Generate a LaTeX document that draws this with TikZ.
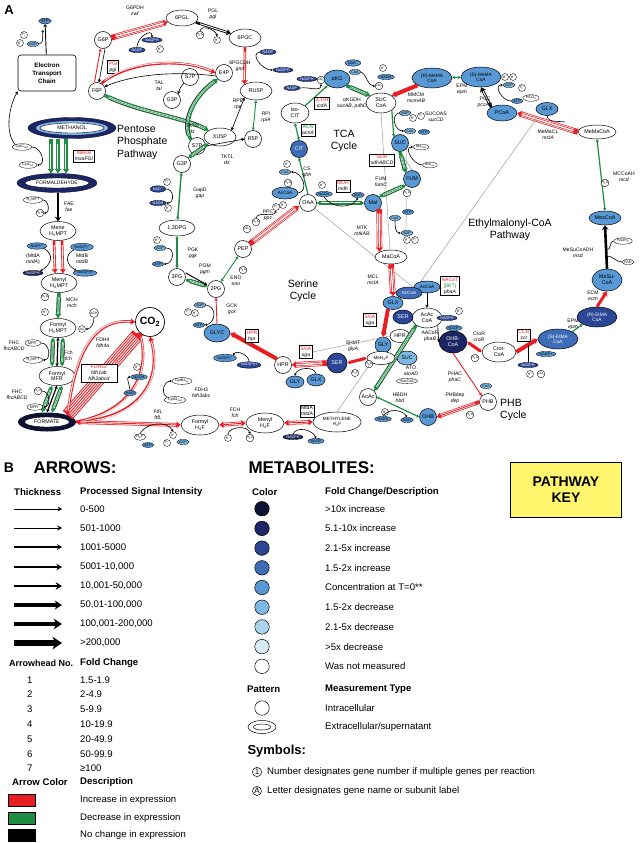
\documentclass[tikz,border=0pt]{standalone}
\usepackage{fontspec}
\setmainfont{Liberation Sans}
\usetikzlibrary{arrows.meta,shapes.geometric,calc}
\definecolor{myred}{RGB}{232,30,37}
\definecolor{mygreen}{RGB}{30,140,65}
\definecolor{c1}{RGB}{13,18,50}
\definecolor{c2}{RGB}{28,38,100}
\definecolor{c3}{RGB}{44,70,150}
\definecolor{c4}{RGB}{62,108,182}
\definecolor{c5}{RGB}{88,152,212}
\definecolor{c6}{RGB}{128,184,228}
\definecolor{c7}{RGB}{172,211,238}
\definecolor{c8}{RGB}{216,235,248}
\definecolor{keyyel}{RGB}{255,246,110}
\newcommand{\myfs}[2]{\fontsize{#1}{#2}\selectfont}
\newcommand{\lsb}[1]{\textsubscript{#1}}
\newcommand{\lsp}[1]{\textsuperscript{#1}}
\tikzset{
 met/.style={ellipse, draw, line width=0.5pt, fill=white, inner sep=0pt, font=\myfs{5.4}{5.9}, align=center},
 metc/.style={circle, draw, line width=0.5pt, fill=white, inner sep=0pt, minimum size=17pt, font=\myfs{5.4}{5.9}},
 cof/.style={circle, draw, line width=0.35pt, fill=white, inner sep=0pt, minimum size=7pt, font=\myfs{3.4}{3.6}},
 cofe/.style={ellipse, draw, line width=0.35pt, fill=white, inner sep=0.5pt, font=\myfs{3.8}{4}},
 k1/.style={fill=c1,text=white}, k2/.style={fill=c2,text=white}, k3/.style={fill=c3,text=white},
 k4/.style={fill=c4,text=white}, k5/.style={fill=c5}, k6/.style={fill=c6}, k7/.style={fill=c7}, k8/.style={fill=c8},
 lab/.style={font=\myfs{5.1}{5.9}, align=center, inner sep=0pt},
 gbox/.style={draw, line width=0.5pt, fill=white, font=\myfs{5.1}{5.9}, align=center, inner sep=1.2pt},
 big/.style={font=\myfs{10.5}{12.5}, align=left, inner sep=0pt},
 tipS/.style={-{Stealth[length=4.5pt,width=6.5pt]}},
 tpp/.style={{Stealth[length=3pt,width=3.5pt]}-{Stealth[length=3pt,width=3.5pt]}},
 tp/.style={-{Stealth[length=3pt,width=3.5pt]}},
 tSS/.style={{Stealth[length=4.5pt,width=6.5pt]}-{Stealth[length=4.5pt,width=6.5pt]}},
 rT/.style={draw=myred, line width=0.9pt},
 gT/.style={draw=mygreen, line width=0.9pt},
 bT/.style={draw=black, line width=0.6pt},
 hook/.style={draw=black, line width=0.6pt, -{Stealth[length=2.2pt,width=2.6pt]}},
 grayl/.style={draw=black!45, line width=0.4pt},
 rBig/.style={draw=myred, line width=3pt},
 kBig/.style={draw=black, line width=2.6pt},
 rD/.style={draw=myred, line width=2.6pt, postaction={draw=white, line width=0.9pt, -, shorten >=4.5pt, shorten <=4.5pt}},
 kD/.style={draw=black, line width=2.6pt, postaction={draw=white, line width=0.9pt, -, shorten >=4.5pt, shorten <=4.5pt}},
 rS/.style={draw=myred, line width=3.8pt, postaction={draw=white, line width=2.3pt, -, shorten >=4.5pt, shorten <=4.5pt}, postaction={draw=myred, line width=0.9pt, -, shorten >=4.5pt, shorten <=4.5pt}},
 rSS/.style={draw=myred, line width=5.6pt, postaction={draw=white, line width=4.2pt, -, shorten >=4.5pt, shorten <=4.5pt}, postaction={draw=myred, line width=2.8pt, -, shorten >=4.5pt, shorten <=4.5pt}, postaction={draw=white, line width=1.4pt, -, shorten >=4.5pt, shorten <=4.5pt}},
 rW/.style={draw=myred, line width=13pt, postaction={draw=white, line width=11pt, -, shorten >=6pt, shorten <=2pt}, postaction={draw=myred, line width=9pt, -, shorten >=6pt, shorten <=2pt}, postaction={draw=white, line width=7pt, -, shorten >=6pt, shorten <=2pt}, postaction={draw=myred, line width=5pt, -, shorten >=6pt, shorten <=2pt}, postaction={draw=white, line width=3pt, -, shorten >=6pt, shorten <=2pt}, postaction={draw=myred, line width=1pt, -, shorten >=6pt, shorten <=2pt}},
 gS/.style={draw=mygreen, line width=3.4pt, preaction={draw=black!80, line width=4.2pt, -, shorten >=4.5pt, shorten <=4.5pt}, postaction={draw=white, line width=1.6pt, -, shorten >=4.5pt, shorten <=4.5pt}, postaction={draw=mygreen, line width=0.5pt, -, shorten >=4.5pt, shorten <=4.5pt}},
 kh/.style={font=\bfseries\myfs{9.6}{10.5}, anchor=west, inner sep=0pt},
 kt/.style={font=\myfs{9.6}{10.5}, anchor=west, inner sep=0pt},
 kc/.style={circle, draw, line width=0.5pt, minimum size=14.5pt, inner sep=0pt},
}
\begin{document}
\begin{tikzpicture}[x=1pt,y=-1pt]
\useasboundingbox (0,0) rectangle (640,843);
\fill[white] (0,0) rectangle (640,843);
\node[font=\bfseries\myfs{13}{13}] (lA) at (9,10) {A};

% ---------- ETC ----------
\node[cofe,k5,font=\myfs{4.3}{4.5}] (atp0) at (45,21) {ATP};
\node[cof] (pi0) at (24,35) {P\lsb{i}};
\node[cof] (h0) at (20,43) {H\lsp{+}};
\node[cofe,k6] (adp0) at (33,44) {ADP};
\node[draw, rounded corners=3pt, line width=0.6pt, align=center, font=\bfseries\myfs{6.3}{8}, minimum width=58pt, minimum height=36pt] (etc) at (47,73) {Electron\\Transport\\Chain};
\draw[bT,line width=0.9pt,tp] (etc) -- (atp0);
\draw[hook] (adp0.east) to[out=20,in=-100] (43,30);

% ---------- methanol column ----------
\node[ellipse, fill=c2, draw=c1, minimum width=88pt, minimum height=21pt] (methO) at (72,128) {};
\node[ellipse, fill=c6, minimum width=72pt, minimum height=14pt] (methM) at (72,128) {};
\node[ellipse, fill=white, draw=black, line width=0.4pt, minimum width=64pt, minimum height=10pt, inner sep=0pt, font=\myfs{5.3}{5.5}] (meth) at (72,128) {METHANOL};
\node[cofe] (cytr) at (22,147) {CytC\lsb{red}};
\node[cofe] (cyto) at (28,165) {CytC\lsb{ox}};
\node[gbox] (medh) at (84,156) {\textcolor{myred}{MeDH}\\\textit{mxaFGI}};
\node[ellipse, fill=c2, draw=c1, minimum width=80pt, minimum height=19pt] (formO) at (57,183) {};
\node[ellipse, fill=white, draw=black, line width=0.4pt, minimum width=64pt, minimum height=10pt, inner sep=0pt, font=\myfs{5}{5.5}] (form) at (57,183) {FORMALDEHYDE};
\coordinate (m1) at (51,139); \coordinate (m2) at (58,139); \coordinate (m3) at (66,139);
\draw[gS,tipS] (m1) -- (m1 |- formO.north);
\draw[gS,tipS] (m2) -- (m2 |- formO.north);
\draw[gS,tipS] (m3) -- (m3 |- formO.north);
\draw[hook] (cytr.east) to[out=0,in=0,looseness=1.3] (cyto.east);
\draw[bT,tp] (cytr.north west) .. controls (4,130) and (10,105) .. (etc.south west);

\node[cofe] (h4mpt2) at (33,200) {H\lsb{4}MPT};
\node[cof] (h2o31) at (40,213) {H\lsb{2}O};
\node[lab,anchor=west] (fae) at (64,207) {FAE\\\textit{fae}};
\node[met, minimum width=36pt, minimum height=19pt] (mene) at (58,231) {Mene\\H\lsb{4}MPT};
\draw[kBig,tipS] (formO.south -| mene.north) -- (mene.north);
\draw[hook] (h4mpt2.east) to[out=0,in=0,looseness=1.2] (h2o31.east);

\node[cofe,k5] (nadp32) at (37,246) {NADP\lsp{+}};
\node[cofe,k5] (nadp33) at (82,247) {NAD(P)\lsp{+}};
\node[cofe,k2] (nadph32) at (33,273) {NADPH};
\node[cofe,k5] (nadph33) at (85,273) {NAD(P)H};
\node[lab] (mtda1) at (33,259) {(MtdA\\\textit{mtdA})};
\node[lab] (mtdb1) at (82,259) {MtdB\\\textit{mtdB}};
\node[met, minimum width=36pt, minimum height=19pt] (menyl) at (59,283) {Menyl\\H\lsb{4}MPT};
\draw[rD,tipS] ([xshift=-4pt]mene.south) -- ([xshift=-4pt]menyl.north);
\draw[rD,tipS] ([xshift=4pt]mene.south) -- ([xshift=4pt]menyl.north);
\draw[hook] (nadp32.south east) to[out=-30,in=30,looseness=1.4] (nadph32.north east);
\draw[hook] (nadp33.south west) to[out=210,in=150,looseness=1.4] (nadph33.north west);

\node[cof] (h2o29) at (45,297) {H\lsb{2}O};
\node[cof] (h29) at (45,312) {H\lsp{+}};
\node[lab,anchor=west] (mch) at (66,303) {MCH\\\textit{mch}};
\node[met, minimum width=36pt, minimum height=19pt] (fh4mpt) at (58,328) {Formyl\\H\lsb{4}MPT};
\draw[gS,tipS] (menyl.south) -- (fh4mpt.north);
\node[cof] (ac) at (82,329) {AC};
\node[cof,minimum size=9pt] (ach) at (94,313) {ACH};
\draw[hook] (ach.south) to[out=-90,in=0] (ac.east);
\node[cofe] (mfr1) at (33,343) {MFR\lsp{+}};
\node[cofe] (h4mpt1) at (33,360) {H\lsb{4}MPT};
\node[lab] (fhc1) at (14,346) {FHC\\\textit{fhcABCD}};
\node[lab,anchor=west] (fch1) at (64,356) {Fch\\\textit{fch}};
\node[met, minimum width=36pt, minimum height=19pt] (fmfr) at (57,376) {Formyl\\MFR};
\draw[gS,tpp] ([xshift=-5pt]fh4mpt.south) -- ([xshift=-5pt]fmfr.north);
\draw[bT,line width=1.2pt,tpp] (fh4mpt.south) -- (fmfr.north);
\draw[gS,tpp] ([xshift=5pt]fh4mpt.south) -- ([xshift=5pt]fmfr.north);
\draw[hook] (mfr1.east) to[out=0,in=0,looseness=1.3] (h4mpt1.east);
\node[cof] (h2o30) at (38,391) {H\lsb{2}O};
\node[cofe] (mfr2) at (35,407) {MFR\lsp{+}};
\node[lab] (fhc2) at (17,395) {FHC\\\textit{fhcABCD}};
\node[ellipse, fill=c1, minimum width=58pt, minimum height=19pt] (fmtO) at (47,422) {};
\node[ellipse, fill=white, draw=black, line width=0.4pt, minimum width=45pt, minimum height=10pt, inner sep=0pt, font=\myfs{5.3}{5.5}] (fmt) at (47,422) {FORMATE};
\draw[gS,tpp] ([xshift=-5pt]fmfr.south) -- ([xshift=-5pt]fmtO.north);
\draw[bT,line width=1.2pt,tpp] (fmfr.south) -- (fmtO.north);
\draw[gS,tpp] ([xshift=5pt]fmfr.south) -- ([xshift=5pt]fmtO.north);
\draw[hook] (h2o30.east) to[out=0,in=0,looseness=1.3] (mfr2.east);

% ---------- CO2 / formate ----------
\node[circle, draw, line width=0.7pt, fill=white, minimum size=29pt, inner sep=0pt, font=\bfseries\myfs{10.5}{10.5}] (co2) at (150,322) {CO\lsb{2}};
\draw[rW,tipS] (fmtO.north east) -- (co2.south west);
\draw[rD,tipS] (fmtO.north east) .. controls (76,345) and (98,318) .. (co2.west);
\draw[rD,tipS] (fmtO.east) .. controls (145,418) and (162,375) .. (co2.south);
\draw[rD,tipS] (fmtO.east) .. controls (135,410) and (150,370) .. (co2.south west);
\node[lab,anchor=west] (fdh4) at (96,343) {FDH4\\\textit{fdh4a}};
\node[gbox, minimum width=36pt] (fdh12) at (99,373) {\textcolor{myred}{FDH12}\\\textit{fdh1ab}\\\textit{fdh2abcd}};
\node[cof] (h28) at (137,367) {H\lsp{+}};
\node[cofe,k5] (nadh28) at (139,377) {NADH};
\node[cofe,k5] (nad28) at (130,393) {NAD};
\draw[hook] (nad28.north) to[out=90,in=180] (nadh28.west);
\node[cofe] (cytbo) at (182,381) {Cytb1\lsb{ox}};
\node[cofe] (cytbr) at (175,400) {Cytb1\lsb{red}};
\draw[hook] (cytbr.north west) to[out=150,in=180,looseness=1.2] (cytbo.west);
\node[lab,anchor=west] (fdh3) at (192,393) {FDH3\\\textit{fdh3abc}};

\node[met, minimum width=38pt, minimum height=20pt] (formylh4f) at (200,425) {Formyl\\H\lsb{4}F};
\draw[rS,tSS] (fmtO.east) -- (formylh4f.west);
\node[lab] (ftfl) at (158,415) {FtfL\\\textit{ftfL}};
\node[cofe] (h4f25) at (140,437) {H\lsb{4}F};
\node[cofe,k5] (atp25) at (148,445) {ATP};
\node[cof] (pi25) at (167,443) {P\lsb{i}};
\node[cof] (h25) at (173,435) {H\lsp{+}};
\node[cofe,k6] (adp25) at (183,442) {ADP};
\draw[hook] (h4f25.north) to[out=60,in=120] (h25.north);
\node[met, minimum width=38pt, minimum height=20pt] (menylh4f) at (265,423) {Menyl\\H\lsb{4}F};
\draw[rS,tSS] (formylh4f.east) -- (menylh4f.west);
\node[lab] (fch2) at (235,413) {FCH\\\textit{fch}};
\node[cof] (h26) at (228,438) {H\lsp{+}};
\node[cof] (h2o26) at (250,438) {H\lsb{2}O};
\draw[hook] (h26.north) to[out=80,in=100] (h2o26.north);
\node[met, minimum width=48pt, minimum height=20pt, font=\myfs{4.6}{5.4}] (methh4f) at (337,422) {METHYLENE\\H\lsb{4}F};
\draw[rS,tSS] (menylh4f.east) -- (methh4f.west);
\node[gbox] (mtda2) at (307,411) {MtdA\\\textit{mtdA}};
\node[cofe,k2] (nadph27) at (293,437) {NADPH};
\node[cofe,k5] (nadp27) at (316,441) {NADP};
\draw[hook] (nadph27.north) to[out=70,in=110] (nadp27.north);

% ---------- pentose phosphate ----------
\node[metc] (g6p) at (103,40) {G6P};
\node[met, minimum width=32pt, minimum height=16pt] (pgl6) at (182,18) {6PGL};
\node[met, minimum width=32pt, minimum height=18pt] (pgc6) at (245,38) {6PGC};
\node[metc] (f6p) at (97,91) {F6P};
\node[metc] (e4p) at (224,73) {E4P};
\node[metc] (s7pa) at (190,77) {S7P};
\node[metc] (g3pa) at (172,100) {G3P};
\node[met, minimum width=32pt, minimum height=18pt] (ru5p) at (256,91) {RU5P};
\node[met, minimum width=32pt, minimum height=18pt] (xu5p) at (220,137) {XU5P};
\node[metc] (r5p) at (253,139) {R5P};
\node[metc] (s7pb) at (197,146) {S7P};
\node[metc] (g3pb) at (182,164) {G3P};
\draw[rSS,tipS] (g6p) -- (pgl6);
\draw[kD,tipS] (pgl6) -- (pgc6);
\draw[rD,tipS] (pgc6.south) -- (ru5p.north west);
\draw[rT,tp] ([xshift=-2.5pt]f6p.north) -- ([xshift=-2.5pt]g6p.south);
\draw[bT,tp] ([xshift=2pt]g6p.south) -- ([xshift=2pt]f6p.north);
\node[gbox] (pgi) at (113,67) {\textcolor{myred}{PGI}\\\textit{pgi}};
\node[lab] (g6pdh) at (135,11) {G6PDH\\\textit{zwf}};
\node[cofe,k3] (nadph1) at (152,40) {NADPH};
\node[cof] (h1) at (160,49) {H\lsp{+}};
\node[cofe,k3] (nadp1) at (137,50) {NADP};
\draw[hook] (nadp1.north) to[out=90,in=90,looseness=1.4] (nadph1.north);
\node[lab] (pglab) at (213,14) {PGL\\\textit{pgl}};
\node[cof] (h2o1) at (200,35) {H\lsb{2}O};
\node[cof] (h1b) at (217,40) {H\lsp{+}};
\draw[hook] (h2o1.north) to[out=80,in=100] (h1b.north);
\node[cofe,k3] (nadp2) at (268,52) {NADP};
\node[cofe,k3] (nadph2) at (283,70) {NADPH};
\draw[hook] (nadp2.west) to[out=190,in=180,looseness=1.2] (nadph2.west);
\node[lab] (pgcdh) at (240,66) {6PGCDH\\\textit{gnd}};
\draw[rD,tipS] (f6p.60) .. controls (130,60) and (185,58) .. (e4p.west);
\draw[bT,tp] (e4p.200) .. controls (185,72) and (140,72) .. (f6p.30);
\draw[bT,tp] (s7pa.south west) .. controls (180,88) .. (g3pa.north east);
\node[lab] (tal) at (159,86) {TAL\\\textit{tal}};
\draw[gS,tipS] (f6p.-30) .. controls (140,112) and (185,118) .. (xu5p.north west);
\draw[gS,tipS] (s7pb.north west) .. controls (182,120) and (195,95) .. (e4p.south west);
\draw[bT,tpp] (ru5p.south west) -- (xu5p.north east);
\node[lab] (rpe) at (238,104) {RPE\\\textit{rpe}};
\draw[gT,tpp] (ru5p.south) -- (r5p.north);
\node[lab] (rpi) at (266,117) {RPI\\\textit{rpiA}};
\node[lab] (tkt2) at (192,129) {TKT2\\\textit{tkt}};
\draw[bT,tp] (s7pb.east) -- (r5p.west);
\draw[gS,tpp] (g3pb.north east) -- (xu5p.south west);
\node[lab] (tkt1) at (227,160) {TKT1\\\textit{tkt}};
\node[big, anchor=west] (ppp) at (117,142) {Pentose\\Phosphate\\Pathway};

% ---------- glycolysis ----------
\node[met, minimum width=36pt, minimum height=16pt] (dpg) at (177,228) {1,3DPG};
\node[metc] (pg3) at (177,277) {3PG};
\node[metc] (pg2) at (216,289) {2PG};
\node[metc] (pep) at (243,249) {PEP};
\draw[gT,line width=1.4pt,tpp] (g3pb) -- (dpg);
\draw[gT,line width=1.4pt,tpp] (dpg) -- (pg3);
\draw[gS,tpp] (pg3) -- (pg2);
\draw[bT,line width=1pt,tp] ([yshift=4pt]pg3.east) -- ([yshift=4pt]pg2.west);
\draw[gT,tpp] (pg2) -- (pep);
\node[lab] (gapd) at (200,193) {GapD\\\textit{gap}};
\node[cof] (pi13) at (167,182) {P\lsb{i}};
\node[cofe,k3] (nad13) at (158,189) {NAD\lsp{+}};
\node[cofe,k3] (nadh13) at (158,203) {NADH};
\node[cof] (h13) at (168,208) {H\lsp{+}};
\draw[hook] (nad13.east) to[out=0,in=0,looseness=1.5] (nadh13.east);
\node[lab] (pgk) at (193,253) {PGK\\\textit{pgk}};
\node[cof] (h12) at (157,240) {H\lsp{+}};
\node[cofe,k6] (adp12) at (160,248) {ADP};
\node[cofe,k5] (atp12) at (158,264) {ATP};
\draw[hook] (adp12.east) to[out=0,in=0,looseness=1.5] (atp12.east);
\node[lab] (pgm) at (205,269) {PGM\\\textit{pgm}};
\node[lab] (eno) at (236,281) {ENO\\\textit{eno}};
\node[cof] (h2o11) at (243,270) {H\lsb{2}O};
\draw[rSS,tipS] (pep) -- (299,206);
\node[lab] (ppc) at (268,215) {PPC\\\textit{ppc}};
\node[cof] (pi10) at (276,207) {P\lsb{i}};
\node[cof] (h10) at (283,205) {H\lsp{+}};
\node[cof] (h2o10) at (256,222) {H\lsb{2}O};
\node[cof] (co2c) at (247,229) {CO\lsb{2}};
\draw[hook] (h2o10.north) to[out=70,in=-110] (pi10.south);

% ---------- TCA ----------
\node[metc] (oaa) at (308,203) {OAA};
\node[metc,k5] (mal) at (373,203) {Mal};
\node[metc,k5] (fum) at (412,179) {FUM};
\node[metc,k5] (suc) at (400,143) {SUC};
\node[met, minimum width=30pt, minimum height=20pt] (succoa) at (381,103) {SUC\\CoA};
\node[met,k5, minimum width=26pt, minimum height=18pt] (akg) at (337,79) {αKG};
\node[met, minimum width=28pt, minimum height=20pt] (icit) at (295,113) {Iso-\\CIT};
\node[metc,k4] (cit) at (299,149) {CIT};
\node[met,k5, minimum width=26pt, minimum height=12pt, font=\myfs{4.6}{5}] (accoa0) at (285,193) {AcCoA};
\draw[grayl] (oaa) -- (419,292);
\draw[gT,line width=1.2pt,tp] (oaa.north) -- (cit.south);
\node[lab] (cs) at (307,172) {CS\\\textit{gltA}};
\node[cof] (h8) at (287,164) {H\lsp{+}};
\node[cofe,k6] (coa8) at (285,172) {CoA};
\node[cof] (h2o8) at (288,183) {H\lsb{2}O};
\draw[hook] (accoa0.east) to[out=10,in=0,looseness=1.3] (coa8.east);
\draw[gT,line width=1.2pt,tpp] (cit.north) -- (icit.south);
\node[gbox] (acn) at (308,130) {\textcolor{mygreen}{ACN}\\\textit{acnA}};
\node[cofe,k3] (nadp3) at (292,88) {NADP};
\node[cofe,k3] (nadph3) at (307,79) {NADPH};
\node[cof] (co2a) at (321,80) {CO\lsb{2}};
\draw[hook] (nadp3.east) to[out=10,in=-90] (co2a.south);
\draw[gT,line width=1.2pt,tp] (icit.north east) -- (akg.south west);
\node[gbox] (icdh) at (322,103) {\textcolor{myred}{ICDH}\\\textit{icdA}};
\draw[gS,tipS] (akg.south east) -- (succoa.north west);
\node[lab] (akgdh) at (352,103) {αKGDH\\\textit{sucAB, pdhD}};
\node[cofe,k5] (nad4) at (353,63) {NAD\lsp{+}};
\node[cofe,k6] (coa4) at (355,72) {CoA};
\node[cof] (h4) at (383,68) {H\lsp{+}};
\node[cofe,k5] (nadh4) at (386,77) {NADH};
\node[cof] (co2b) at (379,86) {CO\lsb{2}};
\draw[hook] (coa4.east) to[out=-30,in=180] (co2b.west);
\node[met,k5, minimum width=40pt, minimum height=20pt, font=\myfs{4.8}{5.4}] (rmema) at (432,78) {(R)-MeMA\\CoA};
\draw[rBig,line width=4pt,tipS] (rmema.south west) -- (succoa.north east);
\node[lab] (mmcm) at (416,98) {MMCM\\\textit{mcmAB}};
\draw[grayl] (succoa.south) -- (390,250);
\node[cofe,k6] (adp5) at (405,113) {ADP};
\node[cof] (h5) at (413,118) {H\lsp{+}};
\node[cof] (pi5) at (421,116) {P\lsb{i}};
\node[lab] (sucoas) at (436,117) {SUCOAS\\\textit{sucCD}};
\node[cofe,k6] (coa5) at (410,131) {CoA};
\node[cofe,k5] (atp5) at (424,132) {ATP};
\draw[hook] (adp5.west) to[out=200,in=180,looseness=1.2] (coa5.west);
\draw[gT,line width=1.2pt,tp] (succoa.south east) -- (suc.north west);
\node[cofe] (accr) at (421,147) {acc\lsb{red}};
\node[cofe] (acco) at (430,165) {acc\lsb{ox}};
\draw[grayl] (suc.south) -- (fum.north);
\draw[grayl] (suc.south east) -- (406,250);
\draw[gS,tipS] (suc.south) -- (fum.north west);
\draw[hook] (acco.west) to[out=180,in=180,looseness=1.2] (accr.west);
\node[gbox] (sdh) at (382,160) {\textcolor{myred}{SDH}\\\textit{sdhABCD}};
\draw[gS,tpp] (fum.south west) -- (mal.north east);
\node[lab] (fumlab) at (381,182) {FUM\\\textit{fumC}};
\node[cof] (h2o6) at (407,193) {H\lsb{2}O};
\draw[gS,tpp] (oaa.east) -- (mal.west);
\node[gbox] (mdh) at (343,186) {\textcolor{myred}{MDH}\\\textit{mdh}};
\node[cof] (h7) at (322,185) {H\lsp{+}};
\node[cofe,k5] (nadh7) at (324,194) {NADH};
\node[cofe,k5] (nad7) at (358,195) {NAD};
\draw[hook] (nadh7.south) to[out=-60,in=-120] (nad7.south);
\node[big, align=center] (tca) at (344,141) {TCA\\Cycle};

% ---------- EMC pathway ----------
\node[met,k5, minimum width=40pt, minimum height=20pt, font=\myfs{4.8}{5.4}] (smema) at (481,77) {(S)-MeMA\\CoA};
\draw[gT,tpp] (rmema) -- (smema);
\node[lab] (epm1) at (462,89) {EPM\\\textit{epm}};
\node[met,k5, minimum width=30pt, minimum height=16pt] (pcoa) at (502,113) {PCoA};
\draw[kD,tipS] (pcoa.north west) -- (smema.south);
\node[lab] (pcc) at (485,102) {PCC\\\textit{pccAB}};
\node[cof] (h14) at (505,77) {H\lsp{+}};
\node[cof] (h14b) at (513,77) {H\lsp{+}};
\node[cofe,k6] (adp14) at (509,85) {ADP};
\node[cof] (pi14) at (522,88) {P\lsb{i}};
\node[cofe,k5] (atp14) at (517,101) {ATP};
\node[cofe] (hco3) at (531,98) {HCO\lsb{3}};
\draw[hook] (atp14.west) to[out=180,in=180,looseness=1.3] (adp14.west);
\node[met,k5, minimum width=22pt, minimum height=13pt] (glxa) at (547,109) {GLX};
\node[met, minimum width=38pt, minimum height=14pt] (memacoa) at (597,132) {MeMaCoA};
\draw[rSS,tipS] (memacoa.west) -- (pcoa.east);
\draw[bT] (glxa.south) to[out=-80,in=170] (565,122);
\node[lab] (memacl) at (548,135) {MeMaCL\\\textit{mclA}};
\draw[grayl] (537,118) -- (419,284);
\node[met,k5, minimum width=32pt, minimum height=14pt] (mescoa) at (605,218) {MesCoA};
\draw[gT,line width=1.2pt,tpp] (memacoa.south) -- (mescoa.north);
\node[lab] (mccoah) at (624,177) {MCCoAH\\\textit{mcd}};
\node[cof] (h2o15) at (605,183) {H\lsb{2}O};
\node[met,k5, minimum width=30pt, minimum height=22pt] (mesucoa) at (607,280) {MeSu-\\CoA};
\draw[kBig,tipS] (mesucoa.north) -- (mescoa.south);
\node[lab] (msd) at (578,253) {MeSuCoADH\\\textit{msd}};
\node[cofe] (fadh2) at (623,241) {FADH\lsb{2}};
\node[cofe] (fad) at (628,262) {FAD};
\draw[bT] (607,250) to[out=0,in=180] (fadh2.west);
\draw[bT] (607,256) to[out=0,in=180] (fad.west);
\node[big, align=center] (emc) at (510,230) {Ethylmalonyl-CoA\\Pathway};
\node[met,k3, minimum width=40pt, minimum height=20pt, font=\myfs{4.8}{5.4}] (retma) at (597,317) {(R)-EtMA\\CoA};
\draw[rBig,tipS] (retma.north) -- (mesucoa.south);
\node[lab] (ecm) at (593,296) {ECM\\\textit{ecm}};
\node[met,k4, minimum width=40pt, minimum height=20pt, font=\myfs{4.8}{5.4}] (setma) at (558,339) {(S)-EtMA\\CoA};
\draw[gT,line width=1.2pt,tp] (setma.north east) -- (retma.south west);
\node[lab] (epm2) at (573,324) {EPM\\\textit{epm}};
\node[met, minimum width=34pt, minimum height=20pt] (crot) at (499,352) {Crot-\\CoA};
\draw[rBig,line width=4pt,tipS] (crot.east) -- (setma.west);
\node[gbox] (ccr) at (524,335) {\textcolor{myred}{CCR}\\\textit{ccr}};
\node[cofe,k5] (nadpp16) at (546,354) {NADP+};
\node[cofe,k3] (nadph16) at (528,365) {NADPH};
\node[cof] (h16) at (530,374) {H\lsp{+}};
\node[cof] (co216) at (541,374) {CO\lsb{2}};
\draw[bT] (nadph16.north) -- (528,345);
\node[met,k2, minimum width=28pt, minimum height=22pt] (ohbcoa) at (453,342) {OHB-\\CoA};
\draw[rBig,tpp] (ohbcoa.east) -- (crot.west);
\node[lab] (cror) at (479,337) {CroR\\\textit{croR}};
\node[cof] (h2o17) at (475,358) {H\lsb{2}O};
\node[metc] (phb) at (488,402) {PHB};
\draw[rT,tp] (ohbcoa.south) -- (phb.north west);
\node[lab] (phac) at (455,377) {PHAC\\\textit{phaC}};
\node[cofe,k6] (coa18) at (486,386) {CoA};
\node[big, anchor=west] (phbc) at (500,410) {PHB\\Cycle};
\node[metc,k5] (ohb) at (428,417) {OHB};
\draw[rS,tipS] (phb.west) -- (ohb.east);
\node[lab] (phbdep) at (455,398) {PHBdep\\\textit{dep}};
\node[cof] (h2o19) at (470,415) {H\lsb{2}O};

% ---------- serine / MCL region ----------
\node[met, minimum width=32pt, minimum height=14pt] (macoa) at (391,257) {MaCoA};
\draw[rSS,tipS] (mal.south east) -- (macoa.north west);
\node[lab] (mtk) at (362,231) {MTK\\\textit{mtkAB}};
\node[cofe,k6] (coa9) at (395,218) {CoA};
\node[cofe,k5] (atp9) at (408,212) {ATP};
\node[cofe,k6] (adp9) at (407,233) {ADP};
\node[cof] (h9) at (407,240) {H\lsp{+}};
\node[cof] (pi9) at (415,240) {P\lsb{i}};
\draw[hook] (coa9.south) to[out=-90,in=180] (adp9.west);
\node[met,k5, minimum width=26pt, minimum height=12pt, font=\myfs{4.6}{5}] (accoaa) at (427,287) {AcCoA};
\node[met,k4, minimum width=26pt, minimum height=12pt, font=\myfs{4.6}{5}] (accoab) at (409,293) {AcCoA};
\node[met,k5, minimum width=20pt, minimum height=13pt] (glxb) at (393,303) {GLX};
\draw[rSS,tipS] (macoa.south) -- (glxb.north);
\node[lab] (mcl) at (373,280) {MCL\\\textit{mclA}};
\node[gbox] (aacot) at (450,286) {\textcolor{myred}{AACoT}\\\textcolor{mygreen}{(βKT)}\\\textit{phaA}};
\node[big, align=center] (ser) at (303,291) {Serine\\Cycle};
\node[met, minimum width=30pt, minimum height=20pt] (acaccoa) at (427,318) {AcAc\\CoA};
\draw[bT,tp] (accoaa.south) -- (acaccoa.north);
\node[cof] (h20) at (459,311) {H\lsp{+}};
\node[cofe,k3] (nadph20) at (447,318) {NADPH};
\node[cofe,k5] (nadp20) at (454,328) {NADP};
\draw[bT,tp] (acaccoa.south east) -- (ohbcoa.west);
\node[lab] (aacor) at (430,336) {AACoR\\\textit{phaB}};
\node[met,k3, minimum width=20pt, minimum height=14pt] (sera) at (403,317) {SER};
\node[met, minimum width=20pt, minimum height=13pt] (hpra) at (400,336) {HPR};
\node[metc,k5,minimum size=16pt] (glya) at (383,345) {GLY};
\draw[rBig,line width=4pt,tipS] (388,309) -- (glya.north);
\node[gbox] (sga1) at (370,320) {\textcolor{myred}{SGA}\\\textit{sga}};
\node[met,k6, minimum width=20pt, minimum height=14pt] (sucb) at (407,358) {SUC};
\node[cofe] (succoa2) at (407,381) {SucCoA};
\node[lab] (ato) at (411,371) {ATO\\\textit{atoAD}};
\node[metc] (acac) at (368,397) {AcAc};
\draw[gS,tipS] (acaccoa.south west) -- (acac.north east);
\node[met, minimum width=28pt, minimum height=13pt, font=\myfs{4.6}{5}] (meh4f) at (381,358) {MeH\lsb{4}F};
\node[cof] (h2o22) at (369,364) {H\lsb{2}O};
\node[cof] (h4f22) at (355,373) {H\lsb{4}F};
\node[metc,k3,minimum size=20pt] (serb) at (337,363) {SER};
\draw[rBig,tpp] (meh4f.west) -- (serb.east);
\node[lab] (shmt) at (353,346) {SHMT\\\textit{glyA}};
\draw[gT,line width=1.2pt,tpp] (acac.east) -- (ohb.west);
\node[lab] (hbdh) at (400,398) {HBDH\\\textit{hbd}};
\node[cof] (h21) at (385,412) {H\lsp{+}};
\node[cofe,k5] (nadh21) at (383,419) {NADH};
\node[cofe,k5] (nad21) at (407,420) {NAD};
\draw[hook] (nadh21.north) to[out=60,in=120] (nad21.north);
\node[metc] (hprb) at (283,365) {HPR};
\draw[rSS,tipS] (serb.west) -- (hprb.east);
\node[gbox] (sga2) at (306,352) {\textcolor{myred}{SGA}\\\textit{sga}};
\node[met,k5, minimum width=18pt, minimum height=12pt] (glyb) at (295,382) {GLY};
\node[met,k5, minimum width=18pt, minimum height=12pt] (glxc) at (316,380) {GLX};
\draw[hook] (glxc.north) to[out=100,in=80] (glyb.north);
\draw[grayl] (sga2.east) -- (hpra.west);
\draw[grayl] (methh4f.north) -- (meh4f.south west);
\node[met,k5, minimum width=26pt, minimum height=18pt] (glyc) at (217,333) {GLYC};
\draw[rBig,line width=4pt,tipS] (hprb.north west) -- (glyc.east);
\node[gbox] (hpr) at (252,336) {\textcolor{myred}{HPR}\\\textit{hpr}};
\node[cofe,k5] (nadpp23) at (225,358) {NAD(P)\lsp{+}};
\node[cofe,k3] (nadph23) at (249,365) {NAD(P)H};
\draw[hook] (nadph23.north) to[out=90,in=60] (nadpp23.north east);
\draw[rT,tp] (glyc.north) -- (pg2.south);
\node[lab] (gck) at (232,309) {GCK\\\textit{gck}};
\node[cofe,k6] (adp24) at (200,305) {ADP};
\node[cof] (pi24) at (188,312) {P\lsb{i}};
\node[cof] (h24) at (195,313) {H\lsp{+}};
\node[cofe,k5] (atp24) at (199,325) {ATP};
\draw[hook] (adp24.east) to[out=-10,in=10,looseness=1.4] (atp24.east);

% =================== PANEL B ===================
\node[font=\bfseries\myfs{14}{14}] (lB) at (9,468) {B};
\node[anchor=west, font=\bfseries\myfs{17}{17}] (arrt) at (30,468) {ARROWS:};
\node[kh] (thk) at (14,492) {Thickness};
\node[kh] (psi) at (80,492) {Processed Signal Intensity};
\foreach \yy/\ww/\tt [count=\i] in {509/0.5/{0-500},528/0.8/{501-1000},547/1.2/{1001-5000},567/1.8/{5001-10,000},586/2.6/{10,001-50,000},605/3.6/{50,01-100,000},624/4.8/{100,001-200,000},643/6.2/{>200,000}} {
  \coordinate (ls\i) at (14,\yy);
  \coordinate (le\i) at (62,\yy);
  \draw[line width=\ww pt, -{Stealth[length=4pt 0.9, width=4pt 1.4]}] (ls\i) -- (le\i);
  \node[kt] (lt\i) at (80,\yy) {\tt};
}
\node[kh, font=\bfseries\myfs{9}{10}] (ahn) at (9,663) {Arrowhead No.};
\node[kh] (fcl) at (80,663) {Fold Change};
\foreach \nn/\tt [count=\i] in {1/{1.5-1.9},2/{2-4.9},3/{5-9.9},4/{10-19.9},5/{20-49.9},6/{50-99.9},7/{≥100}} {
  \node[kt] (an\i) at (27,665+14.8*\i) {\nn};
  \node[kt] (at\i) at (80,665+14.8*\i) {\tt};
}
\node[kh] (acl) at (12,782) {Arrow Color};
\node[kh] (dsc) at (80,782) {Description};
\node[draw, fill=myred, minimum width=27pt, minimum height=12pt, inner sep=0pt] (bx1) at (22,800) {};
\node[kt] (bt1) at (80,800) {Increase in expression};
\node[draw, fill=mygreen, minimum width=27pt, minimum height=12pt, inner sep=0pt] (bx2) at (22,818) {};
\node[kt] (bt2) at (80,818) {Decrease in expression};
\node[draw, fill=black, minimum width=27pt, minimum height=12pt, inner sep=0pt] (bx3) at (22,835) {};
\node[kt] (bt3) at (80,835) {No change in expression};

\node[anchor=west, font=\bfseries\myfs{17}{17}] (mett) at (245,468) {METABOLITES:};
\node[kh] (colh) at (252,492) {Color};
\node[kh] (fch) at (325,492) {Fold Change/Description};
\foreach \cc/\tt [count=\i] in {c1/{>10x increase},c2/{5.1-10x increase},c3/{2.1-5x increase},c4/{1.5-2x increase},c5/{Concentration at T=0**},c6/{1.5-2x decrease},c7/{2.1-5x decrease},c8/{>5x decrease},white/{Was not measured}} {
  \node[kc, fill=\cc] (mc\i) at (262,489+19.7*\i) {};
  \node[kt] (mt\i) at (325,489+19.7*\i) {\tt};
}
\node[kh] (path) at (247,689) {Pattern};
\node[kh] (mtyp) at (325,689) {Measurement Type};
\node[kc, fill=white] (pi1) at (262,708) {};
\node[kt] (pt1) at (325,708) {Intracellular};
\node[ellipse, draw, line width=0.5pt, minimum width=28pt, minimum height=13pt, inner sep=0pt] (pe1) at (262,727) {};
\node[ellipse, draw, line width=0.5pt, minimum width=17pt, minimum height=6pt, inner sep=0pt] (pe2) at (262,727) {};
\node[kt] (pt2) at (325,727) {Extracellular/supernatant};
\node[anchor=west, font=\bfseries\myfs{13}{13}] (symt) at (244,751) {Symbols:};
\node[circle, draw, line width=0.5pt, inner sep=0.8pt, font=\myfs{8}{8}] (sym1) at (257,772) {1};
\node[kt] (st1) at (267,772) {Number designates gene number if multiple genes per reaction};
\node[circle, draw, line width=0.5pt, inner sep=0.5pt, font=\myfs{8}{8}] (sym2) at (257,791) {A};
\node[kt] (st2) at (267,791) {Letter designates gene name or subunit label};

\node[draw, line width=1pt, fill=keyyel, minimum width=111pt, minimum height=55pt, align=center, font=\bfseries\myfs{14}{16}] (pkey) at (566,490) {PATHWAY\\KEY};
\end{tikzpicture}
\end{document}
